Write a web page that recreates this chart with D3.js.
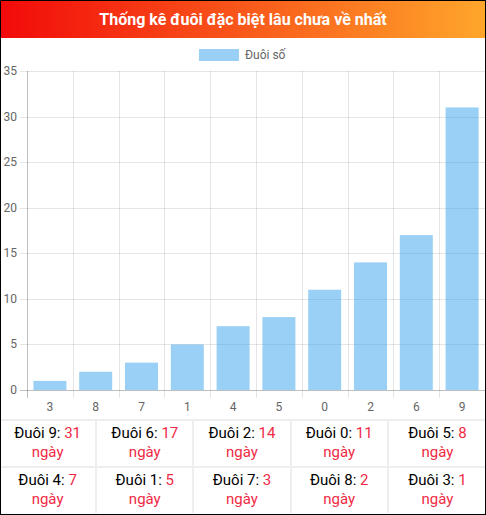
<!DOCTYPE html>
<html>
<head>
<meta charset="utf-8">
<script src="https://cdn.jsdelivr.net/npm/d3@7"></script>
<style>
  body { margin: 0; font-family: Roboto, "Open Sans", sans-serif; }
  #wrap { position: relative; width: 486px; height: 515px; border: 1px solid #000; box-sizing: border-box; overflow: hidden; background: #fff; }
  #head { position: absolute; left: 0; top: 0; width: 484px; height: 37px; background: linear-gradient(to right, #f20a0a, #ffa62b); color: #fff; font-weight: bold; font-size: 16px; text-align: center; line-height: 37px; }
  #chart { position: absolute; left: -1px; top: -1px; }
  #tbl { position: absolute; left: -1px; top: 418px; width: 486px; display: grid; grid-template-columns: repeat(5, 1fr); }
  .cell { height: 47px; box-sizing: border-box; border-right: 2px solid #eee; border-top: 2px solid #eee; text-align: center; font-size: 15px; line-height: 19px; padding-top: 3px; color: #000; }
  .cell:nth-child(5n) { border-right: none; }
  .cell .v { color: #f02a45; }
</style>
</head>
<body>
<div id="wrap">
  <svg id="chart" width="486" height="420"></svg>
  <div id="head">Thống kê đuôi đặc biệt lâu chưa về nhất</div>
  <div id="tbl"></div>
</div>
<script>
// bar chart: order from the picture (ascending)
let categories = ['3', '8', '7', '1', '4', '5', '0', '2', '6', '9'];
let values = [1, 2, 3, 5, 7, 8, 11, 14, 17, 31];
let yTicks = [0, 5, 10, 15, 20, 25, 30, 35];
let seriesName = 'Đuôi số';

// table below the chart (descending)
let tableDigits = ['9', '6', '2', '0', '5', '4', '1', '7', '8', '3'];
let tableDays = [31, 17, 14, 11, 8, 7, 5, 3, 2, 1];

let plotLeft = 27, plotRight = 485, plotTop = 71, plotBottom = 390;
let svg = d3.select('#chart');

let x = d3.scaleBand().domain(categories).range([plotLeft, plotRight]);
let y = d3.scaleLinear().domain([0, 35]).range([plotBottom, plotTop]);

// horizontal grid + ticks
svg.append('g').selectAll('line')
  .data(yTicks)
  .enter().append('line')
  .attr('x1', plotLeft - 7).attr('x2', plotRight)
  .attr('y1', d => Math.round(y(d)) + 0.5).attr('y2', d => Math.round(y(d)) + 0.5)
  .attr('stroke', d => d === 0 ? 'rgba(0,0,0,0.25)' : 'rgba(0,0,0,0.1)');

// vertical grid at band edges
let edges = categories.map(c => x(c)).concat([plotRight]);
svg.append('g').selectAll('line')
  .data(edges)
  .enter().append('line')
  .attr('x1', d => Math.round(d) + 0.5).attr('x2', d => Math.round(d) + 0.5)
  .attr('y1', plotTop).attr('y2', plotBottom + 8)
  .attr('stroke', (d, i) => i === 0 ? 'rgba(0,0,0,0.25)' : 'rgba(0,0,0,0.1)');

// y labels
svg.append('g').selectAll('text')
  .data(yTicks)
  .enter().append('text')
  .attr('x', 17).attr('y', d => y(d) + 4)
  .attr('text-anchor', 'end')
  .attr('font-size', 12).attr('fill', '#666')
  .text(d => d);

// x labels
svg.append('g').selectAll('text')
  .data(categories)
  .enter().append('text')
  .attr('x', d => x(d) + x.bandwidth() / 2).attr('y', plotBottom + 21)
  .attr('text-anchor', 'middle')
  .attr('font-size', 12).attr('fill', '#666')
  .text(d => d);

// bars
let bw = x.bandwidth() * 0.72;
svg.append('g').selectAll('rect')
  .data(values)
  .enter().append('rect')
  .attr('x', (d, i) => x(categories[i]) + (x.bandwidth() - bw) / 2)
  .attr('y', d => y(d))
  .attr('width', bw)
  .attr('height', d => plotBottom - y(d))
  .attr('fill', 'rgba(54,162,235,0.5)');

// legend
svg.append('rect')
  .attr('x', 199).attr('y', 49).attr('width', 40).attr('height', 12)
  .attr('fill', 'rgba(54,162,235,0.5)');
svg.append('text')
  .attr('x', 245).attr('y', 59)
  .attr('font-size', 12).attr('fill', '#666')
  .text(seriesName);

// table
let cells = d3.select('#tbl').selectAll('div')
  .data(tableDigits)
  .enter().append('div')
  .attr('class', 'cell');
cells.append('span').text(d => 'Đuôi ' + d + ': ');
cells.append('span').attr('class', 'v').text((d, i) => tableDays[i]);
cells.append('br');
cells.append('span').attr('class', 'v').text('ngày');
</script>
</body>
</html>
